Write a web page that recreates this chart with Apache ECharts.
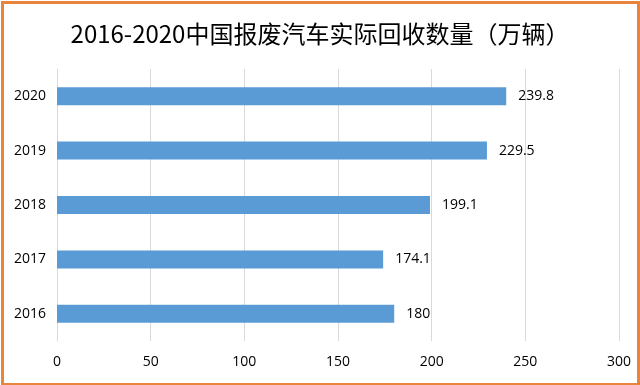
<!DOCTYPE html>
<html><head><meta charset="utf-8">
<script src="https://cdn.jsdelivr.net/npm/echarts@6/dist/echarts.min.js"></script>
<style>html,body{margin:0;padding:0;background:#fff}#c{width:640px;height:385px}</style>
</head><body><div id="c"></div>
<script>
const titleText = '2016-2020中国报废汽车实际回收数量（万辆）';
const categories = ['2016', '2017', '2018', '2019', '2020'];
const values = [180, 174.1, 199.1, 229.5, 239.8];
const xTicks = [0, 50, 100, 150, 200, 250, 300];

const chart = echarts.init(document.getElementById('c'), null, {renderer: 'canvas'});
const font = '"Open Sans", "Noto Sans", sans-serif';
chart.setOption({
  animation: false,
  backgroundColor: '#fff',
  title: {
    text: titleText, left: 'center', top: 17,
    textStyle: {fontSize: 24, fontWeight: 'normal', color: '#000', fontFamily: '"Noto Sans CJK SC", "Noto Sans", sans-serif'}
  },
  graphic: [{
    type: 'rect', left: 0, top: 0, z: 100, silent: true,
    shape: {x: 1, y: 1, width: 636, height: 382},
    style: {fill: 'none', stroke: '#E8843C', lineWidth: 3}
  }],
  grid: {left: 57, right: 21, top: 69, bottom: 44, containLabel: false},
  xAxis: {
    type: 'value', min: xTicks[0], max: xTicks[xTicks.length - 1], interval: 50,
    axisLine: {show: false}, axisTick: {show: false},
    splitLine: {show: true, lineStyle: {color: '#D9D9D9', width: 1}},
    axisLabel: {color: '#000', fontSize: 14, margin: 14, fontFamily: font}
  },
  yAxis: {
    type: 'category', data: categories,
    axisLine: {show: true, lineStyle: {color: '#D9D9D9'}},
    axisTick: {show: false},
    axisLabel: {color: '#000', fontSize: 14, margin: 11, fontFamily: font}
  },
  series: [{
    type: 'bar', data: values, barWidth: 18,
    itemStyle: {color: '#5B9BD5'},
    label: {show: true, position: 'right', distance: 12, color: '#000', fontSize: 14, fontFamily: font}
  }]
});
</script></body></html>
